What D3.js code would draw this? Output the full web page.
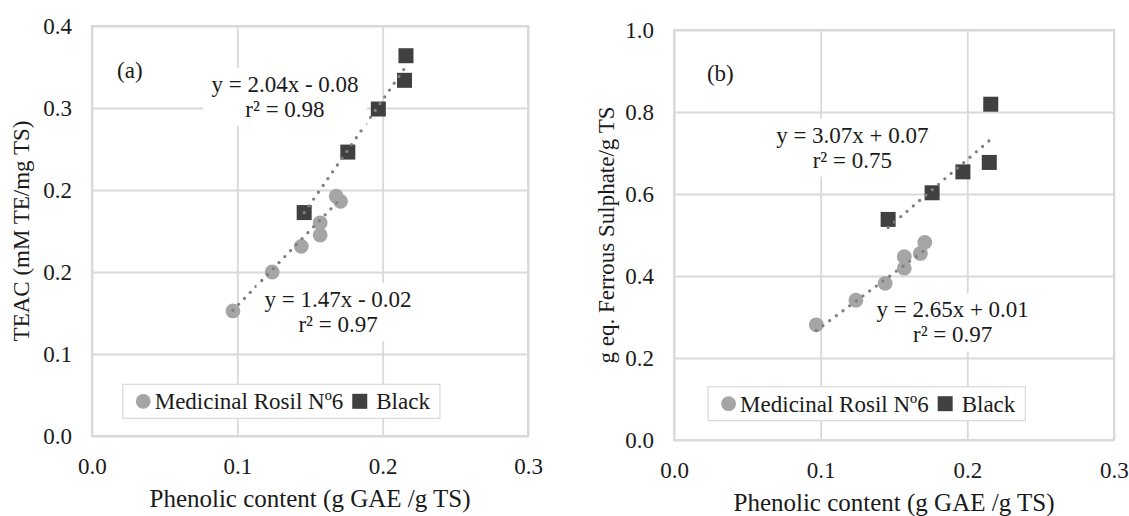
<!DOCTYPE html>
<html>
<head>
<meta charset="utf-8">
<script src="https://cdn.jsdelivr.net/npm/d3@7"></script>
<style>
    body { margin: 0; background: #fff; }
    svg text { font-family: "Liberation Serif", "Times New Roman", serif; font-size: 23px; fill: #1a1a1a; }
    svg text.x-title { font-size: 25px; }
</style>
</head>
<body>
<div id="chart"></div>
<script>
// phenolic content (x) shared by both panels
const phenolicRosil = [0.097, 0.124, 0.144, 0.157, 0.157, 0.168, 0.171];
const phenolicBlack = [0.146, 0.176, 0.197, 0.215, 0.216];

// (a) TEAC
const teacRosil = [0.122, 0.160, 0.185, 0.208, 0.196, 0.234, 0.229];
const teacBlack = [0.218, 0.277, 0.319, 0.347, 0.371];

// (b) FRAP
const frapRosil = [0.281, 0.341, 0.382, 0.447, 0.419, 0.455, 0.482];
const frapBlack = [0.538, 0.603, 0.654, 0.677, 0.819];

// trendlines [slope, intercept, r2]
const fitTeacRosil = [1.47, -0.02, 0.97];
const fitTeacBlack = [2.04, -0.08, 0.98];
const fitFrapRosil = [2.65, 0.01, 0.97];
const fitFrapBlack = [3.07, 0.07, 0.75];

const xTicks = [0, 0.1, 0.2, 0.3];
const teacTicks = [0, 0.08, 0.16, 0.24, 0.32, 0.4];
const frapTicks = [0, 0.2, 0.4, 0.6, 0.8, 1.0];

const seriesNames = ["Medicinal Rosil Nº6", "Black"];
const xTitle = "Phenolic content (g GAE /g TS)";

const rosilColor = "#a5a5a5";
const blackColor = "#404040";
const gridColor = "#d9d9d9";

const svg = d3.select("#chart").append("svg")
    .attr("width", 1129)
    .attr("height", 516);

const fmt = d3.format(".2f");
function eqText(fit) {
    return "y = " + fmt(fit[0]) + "x " + (fit[1] < 0 ? "- " : "+ ") + fmt(Math.abs(fit[1]));
}

function drawPanel(p) {
    const g = svg.append("g")
        .attr("transform", `translate(${p.left},${p.top})`);

    const x = d3.scaleLinear().domain([0, 0.3]).range([0, p.width]);
    const y = d3.scaleLinear().domain([0, p.yMax]).range([p.height, 0]);

    // axes with gridlines
    const yAxis = g.append("g")
        .call(d3.axisLeft(y).tickValues(p.yTicks).tickFormat(d3.format(".1f"))
            .tickSize(-p.width).tickPadding(20));
    const xAxis = g.append("g")
        .attr("transform", `translate(0,${p.height})`)
        .call(d3.axisBottom(x).tickValues(xTicks).tickFormat(d3.format(".1f"))
            .tickSize(-p.height).tickPadding(22));
    [yAxis, xAxis].forEach(a => {
        a.select(".domain").remove();
        a.selectAll(".tick line").attr("stroke", gridColor).attr("stroke-width", 1.8);
    });

    g.append("rect")
        .attr("width", p.width)
        .attr("height", p.height)
        .attr("fill", "none")
        .attr("stroke", gridColor)
        .attr("stroke-width", 2);

    // axis titles
    g.append("text")
        .attr("class", "x-title")
        .attr("x", p.width / 2)
        .attr("y", p.height + 71)
        .attr("text-anchor", "middle")
        .text(xTitle);
    g.append("text")
        .attr("transform", `translate(${p.yTitleX},${p.height / 2}) rotate(-90)`)
        .attr("text-anchor", "middle")
        .text(p.yTitle);

    // markers
    const rosil = p.rosil.map((v, i) => ({x: phenolicRosil[i], y: v}));
    const black = p.black.map((v, i) => ({x: phenolicBlack[i], y: v}));

    g.selectAll(".rosil")
        .data(rosil)
        .enter().append("circle")
        .attr("class", "rosil")
        .attr("cx", d => x(d.x))
        .attr("cy", d => y(d.y))
        .attr("r", 7.4)
        .attr("fill", rosilColor);

    g.selectAll(".black")
        .data(black)
        .enter().append("rect")
        .attr("class", "black")
        .attr("x", d => x(d.x) - 7.5)
        .attr("y", d => y(d.y) - 7.5)
        .attr("width", 15)
        .attr("height", 15)
        .attr("fill", blackColor);

    // dotted trendlines
    [[phenolicRosil, p.fitRosil], [phenolicBlack, p.fitBlack]].forEach(([xs, fit]) => {
        const ext = d3.extent(xs);
        g.append("line")
            .attr("x1", x(ext[0]))
            .attr("y1", y(fit[0] * ext[0] + fit[1]))
            .attr("x2", x(ext[1]))
            .attr("y2", y(fit[0] * ext[1] + fit[1]))
            .attr("stroke", "#808080")
            .attr("stroke-width", 3.3)
            .attr("stroke-linecap", "round")
            .attr("stroke-dasharray", "0 8.3");
    });

    // equation labels with white box
    [[p.labelBlack, p.fitBlack], [p.labelRosil, p.fitRosil]].forEach(([pos, fit]) => {
        const lg = g.append("g");
        const box = lg.append("rect").attr("fill", "#fff");
        const t = lg.append("text")
            .attr("text-anchor", "middle")
            .attr("x", x(pos[0]))
            .attr("y", y(pos[1]));
        t.append("tspan").attr("x", x(pos[0])).text(eqText(fit));
        t.append("tspan").attr("x", x(pos[0])).attr("dy", 25).text("r² = " + fmt(fit[2]));
        const bb = t.node().getBBox();
        box.attr("x", bb.x - 8).attr("y", bb.y - 4)
            .attr("width", bb.width + 16).attr("height", bb.height + 8);
    });

    // panel tag
    g.append("text")
        .attr("x", x(p.tag[1]))
        .attr("y", y(p.tag[2]))
        .text(p.tag[0]);

    // legend
    const leg = g.append("g")
        .attr("transform", `translate(${p.legend[0]},${p.legend[1]})`);
    const legBox = leg.append("rect")
        .attr("height", 34)
        .attr("fill", "#fff")
        .attr("stroke", gridColor)
        .attr("stroke-width", 1.2);
    leg.append("circle")
        .attr("cx", 20.5).attr("cy", 17).attr("r", 7.4)
        .attr("fill", rosilColor);
    const t1 = leg.append("text")
        .attr("x", 32).attr("y", 25)
        .text(seriesNames[0]);
    const end1 = 32 + t1.node().getComputedTextLength();
    leg.append("rect")
        .attr("x", end1 + 9).attr("y", 9.5)
        .attr("width", 15).attr("height", 15)
        .attr("fill", blackColor);
    const t2 = leg.append("text")
        .attr("x", end1 + 33).attr("y", 25)
        .text(seriesNames[1]);
    legBox.attr("width", end1 + 33 + t2.node().getComputedTextLength() + 10);
}

drawPanel({
    left: 91.9, top: 26, width: 436.2, height: 410,
    yMax: 0.4, yTicks: teacTicks,
    yTitle: "TEAC (mM TE/mg TS)", yTitleX: -63,
    rosil: teacRosil, black: teacBlack,
    fitRosil: fitTeacRosil, fitBlack: fitTeacBlack,
    labelBlack: [0.1328, 0.3356], labelRosil: [0.1693, 0.1259],
    tag: ["(a)", 0.0173, 0.349],
    legend: [30.8, 358.3]
});

drawPanel({
    left: 674.1, top: 30, width: 439.8, height: 410,
    yMax: 1.0, yTicks: frapTicks,
    yTitle: "g eq. Ferrous Sulphate/g TS", yTitleX: -60,
    rosil: frapRosil, black: frapBlack,
    fitRosil: fitFrapRosil, fitBlack: fitFrapBlack,
    labelBlack: [0.1216, 0.725], labelRosil: [0.19, 0.299],
    tag: ["(b)", 0.0224, 0.8756],
    legend: [34, 356.7]
});
</script>
</body>
</html>
